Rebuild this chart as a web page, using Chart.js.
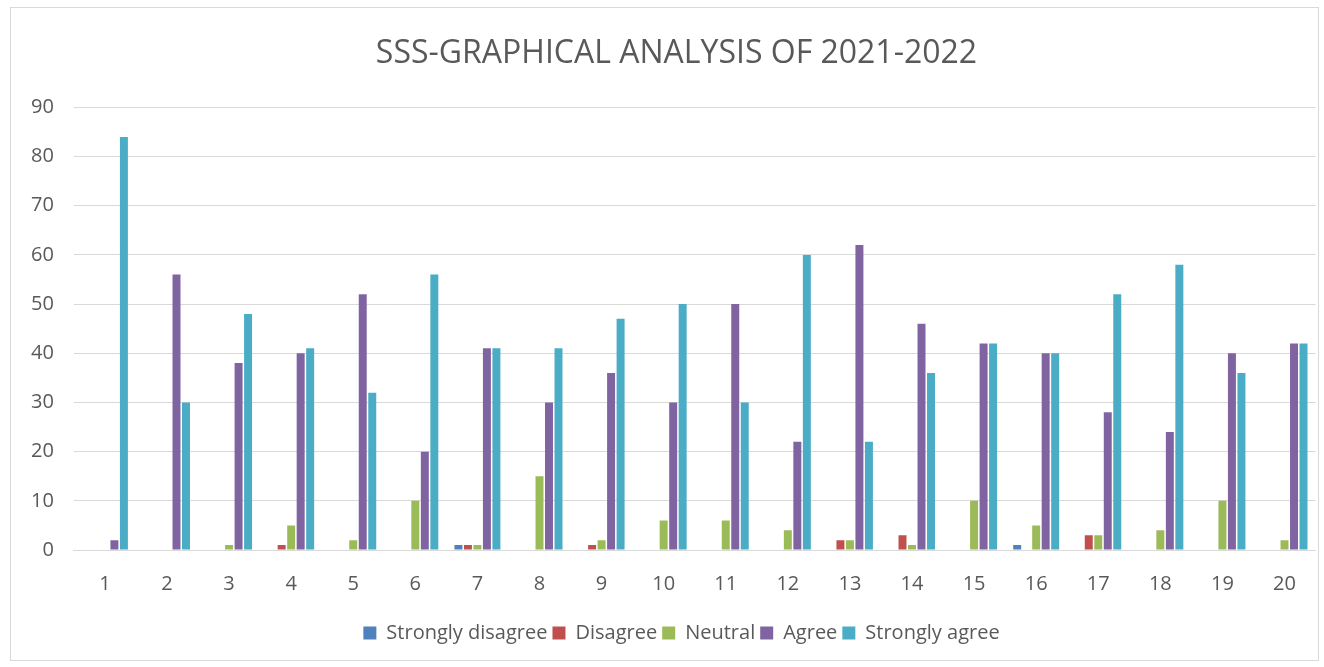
<!DOCTYPE html>
<html><head><meta charset="utf-8">
<script src="https://cdn.jsdelivr.net/npm/chart.js@4/dist/chart.umd.min.js"></script>
<style>
html,body{margin:0;padding:0;background:#fff;}
#box{position:absolute;left:10px;top:7px;width:1309px;height:654px;border:1px solid #d9d9d9;box-sizing:border-box;}
canvas{display:block;}
</style></head><body>
<div id="box"><canvas id="c"></canvas></div>
<script>
const categories = ['1','2','3','4','5','6','7','8','9','10','11','12','13','14','15','16','17','18','19','20'];
const stronglyDisagree = [0,0,0,0,0,0,1,0,0,0,0,0,0,0,0,1,0,0,0,0];
const disagree         = [0,0,0,1,0,0,1,0,1,0,0,0,2,3,0,0,3,0,0,0];
const neutral          = [0,0,1,5,2,10,1,15,2,6,6,4,2,1,10,5,3,4,10,2];
const agree            = [2,56,38,40,52,20,41,30,36,30,50,22,62,46,42,40,28,24,40,42];
const stronglyAgree    = [84,30,48,41,32,56,41,41,47,50,30,60,22,36,42,40,52,58,36,42];
const yTicks = [0,10,20,30,40,50,60,70,80,90];

const FONT = "'Open Sans', 'Liberation Sans', sans-serif";
const mk = (label, data, color) => ({label, data, backgroundColor: color, borderWidth: 0,
  categoryPercentage: 0.765, barPercentage: 0.84});

const boxShift = {
  id: 'boxShift',
  afterLayout(chart) {
    const lg = chart.legend;
    if (lg) { lg.left += 18; lg.right += 18; }
    const t = chart.titleBlock;
    if (t) { t.left += 13; t.right += 13; }
  }
};

new Chart(document.getElementById('c'), {
  type: 'bar',
  data: {
    labels: categories,
    datasets: [
      mk('Strongly disagree', stronglyDisagree, '#4F81BD'),
      mk('Disagree', disagree, '#C0504D'),
      mk('Neutral', neutral, '#9BBB59'),
      mk('Agree', agree, '#8064A2'),
      mk('Strongly agree', stronglyAgree, '#4BACC6')
    ]
  },
  plugins: [boxShift],
  options: {
    responsive: true, maintainAspectRatio: false, animation: false,
    layout: {padding: {left: 0, right: 2, top: 8, bottom: 7}},
    plugins: {
      title: {display: true, text: 'SSS-GRAPHICAL ANALYSIS OF 2021-2022', color: '#595959',
        font: {family: FONT, size: 32, weight: 'normal'}, padding: {top: 19, bottom: 34}},
      legend: {position: 'bottom', labels: {color: '#595959', font: {family: FONT, size: 20},
        boxWidth: 13, boxHeight: 13, padding: 5}},
      tooltip: {enabled: false}
    },
    scales: {
      x: {grid: {display: false, drawTicks: false}, border: {color: '#d9d9d9', width: 1},
        ticks: {color: '#595959', font: {family: FONT, size: 20}, padding: 22}},
      y: {min: 0, max: 90, afterBuildTicks: ax => { ax.ticks = yTicks.map(v => ({value: v})); },
        grid: {color: '#d9d9d9', lineWidth: 1, drawTicks: false}, border: {display: false},
        ticks: {color: '#595959', font: {family: FONT, size: 20}, padding: 20}}
    }
  }
});
</script></body></html>
